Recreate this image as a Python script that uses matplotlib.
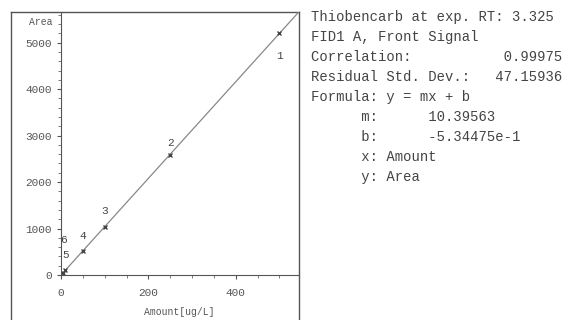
import matplotlib.pyplot as plt
from matplotlib.ticker import MultipleLocator
import numpy as np

plt.rcParams['font.family'] = ['Liberation Mono', 'DejaVu Sans Mono']

# calibration data
amounts = [500, 250, 100, 50, 10, 5]
areas = [5200, 2590, 1040, 520, 104, 52]
level_labels = ['1', '2', '3', '4', '5', '6']
label_dy = [-480, 250, 330, 330, 330, 700]

slope = 10.39563
intercept = -5.34475e-1

info_lines = [
    'Thiobencarb at exp. RT: 3.325',
    'FID1 A, Front Signal',
    'Correlation:           0.99975',
    'Residual Std. Dev.:   47.15936',
    'Formula: y = mx + b',
    '      m:      10.39563',
    '      b:      -5.34475e-1',
    '      x: Amount',
    '      y: Area',
]

W, H = 568, 320
fig = plt.figure(figsize=(W / 100, H / 100), dpi=100)

# outer frame
frame = fig.add_axes([11 / W, -0.02, (299 - 11) / W, (320 - 12) / H + 0.02])
frame.set_xticks([])
frame.set_yticks([])
for s in frame.spines.values():
    s.set_color('#555555')
    s.set_linewidth(1.0)
frame.patch.set_alpha(0)

# calibration plot
ax = fig.add_axes([61 / W, (H - 275) / H, (299 - 61) / W, (275 - 12) / H])
ax.patch.set_alpha(0)
ax.set_xlim(0, 545)
ax.set_ylim(0, 5660)
ax.spines['top'].set_visible(False)
ax.spines['right'].set_visible(False)
ax.spines['left'].set_color('#555555')
ax.spines['bottom'].set_color('#555555')

xfit = np.array([0, 545])
ax.plot(xfit, slope * xfit + intercept, color='#888888', lw=0.9)
ax.plot(amounts, areas, 'x', color='#444444', ms=3, mew=1)
for a, b, lab, dy in zip(amounts, areas, level_labels, label_dy):
    ax.text(a, b + dy, lab, ha='center', va='center', fontsize=8, color='#444444')

ax.set_xticks([0, 200, 400])
ax.xaxis.set_minor_locator(MultipleLocator(50))
ax.set_yticks([0, 1000, 2000, 3000, 4000, 5000])
ax.yaxis.set_minor_locator(MultipleLocator(200))
ax.tick_params(labelsize=8, colors='#555555', length=3, direction='out')
ax.tick_params(which='minor', length=2, colors='#666666')
ax.tick_params(axis='x', pad=6)

ax.text(-20, 5450, 'Area', ha='right', va='center', fontsize=7, color='#555555')
ax.text(270, -800, 'Amount[ug/L]', ha='center', va='center', fontsize=7,
        color='#555555', clip_on=False)

# info text on the right
for i, line in enumerate(info_lines):
    fig.text(311 / W, 1 - (17 + 20 * i) / H, line, ha='left', va='center',
             fontsize=10, color='#444444')

fig.savefig('out.png', dpi=100, facecolor='white')
